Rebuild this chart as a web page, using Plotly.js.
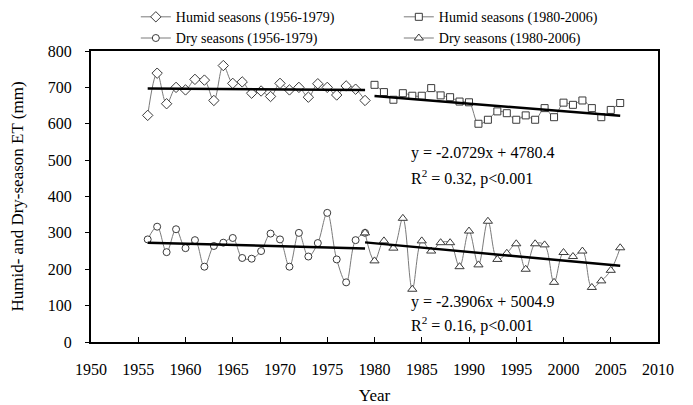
<!DOCTYPE html>
<html>
<head>
<meta charset="utf-8">
<script src="https://cdn.plot.ly/plotly-3.0.1.min.js"></script>
<style>html,body{margin:0;padding:0;background:#fff;}#chart{width:693px;height:405px;}</style>
</head>
<body>
<div id="chart"></div>
<script>
// Data
const yearsEarly = [1956,1957,1958,1959,1960,1961,1962,1963,1964,1965,1966,1967,1968,1969,1970,1971,1972,1973,1974,1975,1976,1977,1978,1979];
const humidEarly = [623,739,655,700,693,722,720,664,760,711,715,684,690,675,711,693,700,673,710,700,679,704,695,664];
const dryEarly   = [282,317,247,310,258,280,207,264,273,286,231,229,250,298,282,207,300,235,272,355,227,164,280,300];

const yearsHumidLate = [1980,1981,1982,1983,1984,1985,1986,1987,1988,1989,1990,1991,1992,1993,1994,1995,1996,1997,1998,1999,2000,2001,2002,2003,2004,2005,2006];
const humidLate = [707,687,666,684,677,677,698,678,673,661,659,600,611,634,629,611,623,611,643,618,658,652,664,643,618,638,657];

const yearsDryLate = [1979,1980,1981,1982,1983,1984,1985,1986,1987,1988,1989,1990,1991,1992,1993,1994,1995,1996,1997,1998,1999,2000,2001,2002,2003,2004,2005,2006];
const dryLate = [300,223,278,258,340,145,278,250,273,273,207,305,212,332,227,244,270,200,270,267,164,246,235,250,150,168,197,259];

// Trend lines (end points)
const trendHumidEarlyX = [1956,1979];
const trendHumidEarlyY = [697,693];
const trendDryEarlyX = [1956,1979];
const trendDryEarlyY = [273,257];
const trendHumidLateX = [1980,2006];
const trendHumidLateY = trendHumidLateX.map(x => -2.0729*x + 4780.4);
const trendDryLateX = [1979,2006];
const trendDryLateY = trendDryLateX.map(x => -2.3906*x + 5004.9);

const xTicks = [1950,1955,1960,1965,1970,1975,1980,1985,1990,1995,2000,2005,2010];
const yTicks = [0,100,200,300,400,500,600,700,800];

const lineGray = '#7a7a7a';
const mk = (sym, size) => ({symbol: sym, size: size, color: '#ffffff', line: {color: '#3a3a3a', width: 1}});

const traces = [
  {x: yearsEarly, y: humidEarly, name: 'Humid seasons (1956-1979)', mode: 'lines+markers',
   line: {color: lineGray, width: 1, shape: 'spline', smoothing: 1}, marker: mk('diamond', 8)},
  {x: yearsHumidLate, y: humidLate, name: 'Humid seasons (1980-2006)', mode: 'lines+markers',
   line: {color: lineGray, width: 1, shape: 'spline', smoothing: 1}, marker: mk('square', 7)},
  {x: yearsEarly, y: dryEarly, name: 'Dry seasons (1956-1979)', mode: 'lines+markers',
   line: {color: lineGray, width: 1, shape: 'spline', smoothing: 1}, marker: mk('circle', 7)},
  {x: yearsDryLate, y: dryLate, name: 'Dry seasons (1980-2006)', mode: 'lines+markers',
   line: {color: lineGray, width: 1, shape: 'spline', smoothing: 1}, marker: mk('triangle-up', 8)},
  {x: trendHumidEarlyX, y: trendHumidEarlyY, mode: 'lines', showlegend: false, line: {color: '#000', width: 2.5}},
  {x: trendHumidLateX, y: trendHumidLateY, mode: 'lines', showlegend: false, line: {color: '#000', width: 2.5}},
  {x: trendDryEarlyX, y: trendDryEarlyY, mode: 'lines', showlegend: false, line: {color: '#000', width: 2.5}},
  {x: trendDryLateX, y: trendDryLateY, mode: 'lines', showlegend: false, line: {color: '#000', width: 2.5}}
];

const serif = 'Liberation Serif, Times New Roman, serif';

const layout = {
  width: 693, height: 405,
  margin: {l: 91, r: 35, t: 51, b: 63, autoexpand: false},
  paper_bgcolor: '#fff', plot_bgcolor: '#fff',
  font: {family: serif, size: 16, color: '#000'},
  showlegend: true,
  legend: {orientation: 'h', xref: 'container', yref: 'container', x: 0.196, xanchor: 'left', y: 0.997, yanchor: 'top',
           entrywidth: 218, entrywidthmode: 'pixels', font: {family: serif, size: 14},
           tracegroupgap: 0, bgcolor: 'rgba(0,0,0,0)', traceorder: 'normal'},
  xaxis: {range: [1950, 2010], tickvals: xTicks, ticktext: xTicks.map(String),
          ticks: 'inside', ticklen: 5, tickcolor: '#000', showgrid: false, zeroline: false,
          showline: true, linecolor: '#000', linewidth: 2, mirror: true,
          ticklabelstandoff: 12,
          title: {text: 'Year', font: {family: serif, size: 17}, standoff: 12}},
  yaxis: {range: [0, 800], tickvals: yTicks, ticktext: yTicks.map(String),
          ticks: 'outside', ticklen: 4, tickcolor: '#000', showgrid: false, zeroline: false,
          showline: true, linecolor: '#000', linewidth: 2, mirror: true,
          ticklabelstandoff: 10,
          title: {text: 'Humid- and Dry-season ET (mm)', font: {family: serif, size: 17}, standoff: 20}},
  annotations: [
    {x: 1983.6, y: 520, xref: 'x', yref: 'y', xanchor: 'left', yanchor: 'middle', showarrow: false,
     text: 'y = -2.0729x + 4780.4', font: {family: serif, size: 16}},
    {x: 1983.6, y: 452, xref: 'x', yref: 'y', xanchor: 'left', yanchor: 'middle', showarrow: false,
     text: 'R<sup>2</sup> = 0.32, p&lt;0.001', font: {family: serif, size: 16}},
    {x: 1983.6, y: 110, xref: 'x', yref: 'y', xanchor: 'left', yanchor: 'middle', showarrow: false,
     text: 'y = -2.3906x + 5004.9', font: {family: serif, size: 16}},
    {x: 1983.6, y: 49, xref: 'x', yref: 'y', xanchor: 'left', yanchor: 'middle', showarrow: false,
     text: 'R<sup>2</sup> = 0.16, p&lt;0.001', font: {family: serif, size: 16}}
  ]
};

Plotly.newPlot('chart', traces, layout, {displayModeBar: false, staticPlot: true});
</script>
</body>
</html>
